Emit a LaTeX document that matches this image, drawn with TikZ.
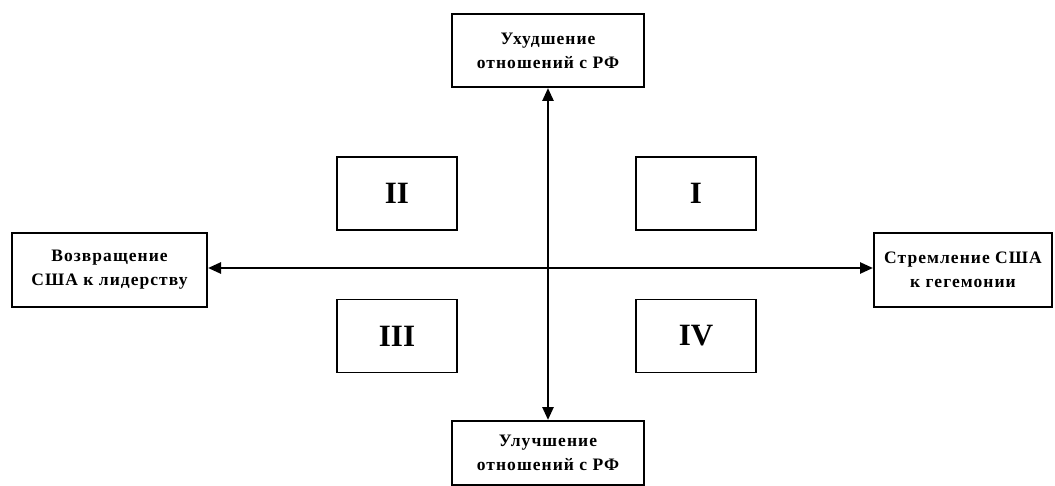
\documentclass[tikz,border=0pt]{standalone}
\usepackage{fontspec}
\setmainfont{Liberation Serif}
\usetikzlibrary{arrows.meta}
\begin{document}
\begin{tikzpicture}[x=1pt,y=-1pt,
  lbl/.style={draw,line width=2pt,align=center,inner sep=0pt,font=\bfseries\fontsize{17.5}{24}\selectfont\addfontfeatures{LetterSpace=6}},
  quad/.style={draw,line width=1.8pt,minimum width=120pt,minimum height=73pt,inner sep=0pt,font=\bfseries\fontsize{31}{34}\selectfont},
  axis/.style={line width=2.6pt,{Triangle[length=13pt,width=11pt]}-{Triangle[length=13pt,width=11pt]}}]
\useasboundingbox (0,0) rectangle (1055,486);
\node[lbl,minimum width=192pt,minimum height=73pt] (top) at (548,50.5) {Ухудшение\\отношений с РФ};
\node[lbl,minimum width=192pt,minimum height=64pt] (bot) at (548,453) {Улучшение\\отношений с РФ};
\node[lbl,minimum width=195pt,minimum height=74pt] (left) at (109.5,270) {Возвращение\\США к лидерству};
\node[lbl,minimum width=178pt,minimum height=74pt] (right) at (963,270) {Стремление США\\к гегемонии};
\node[quad] (q2) at (397,193.5) {II};
\node[quad] (q1) at (696,193.5) {I};
\node[quad] (q3) at (397,336) {III};
\node[quad] (q4) at (696,336) {IV};
\draw[axis] (top.south) -- (bot.north);
\draw[axis] (left.east |- 0,268) coordinate (a) -- (right.west |- 0,268);
\end{tikzpicture}
\end{document}
